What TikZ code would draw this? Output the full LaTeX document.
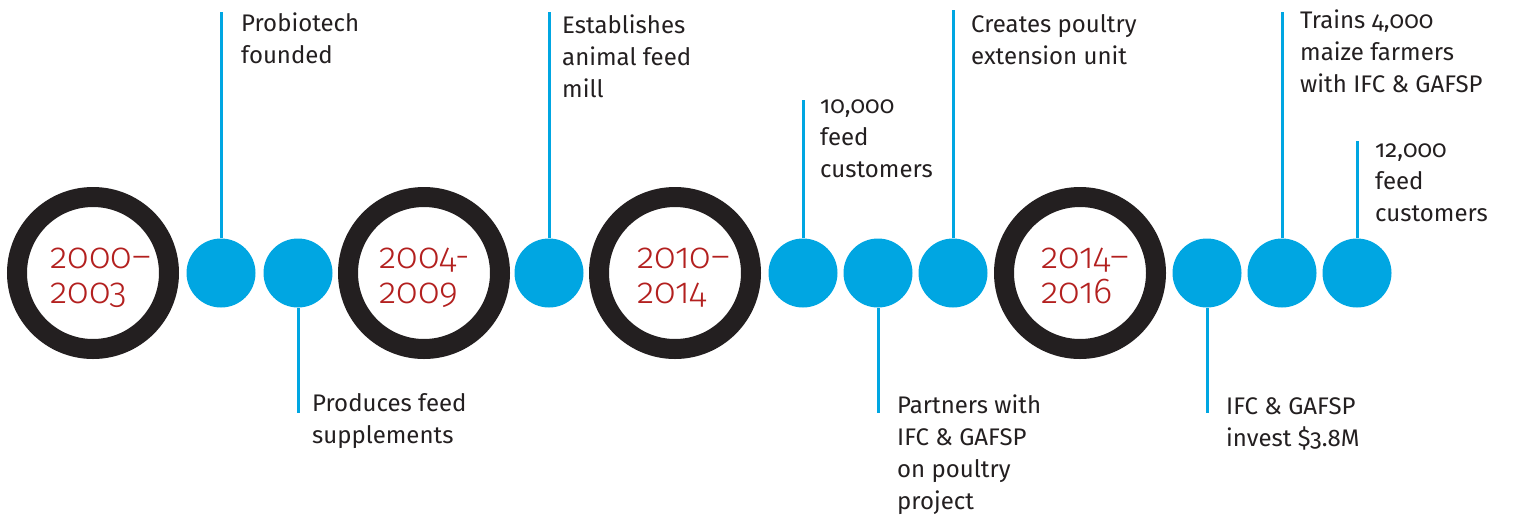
\documentclass[tikz,border=0pt]{standalone}
\usepackage{fontspec}
\setmainfont{Fira Sans}[Numbers=OldStyle]
\newfontfamily\yearfont{Fira Sans Light}[Numbers=OldStyle]
\definecolor{ringblack}{HTML}{231F20}
\definecolor{dotblue}{HTML}{00A6E2}
\definecolor{yearred}{HTML}{B3201F}
\definecolor{txtgray}{HTML}{231F20}
\begin{document}
\begin{tikzpicture}[x=1pt,y=-1pt,
  ring/.style={circle,draw=ringblack,line width=20pt,minimum size=152pt,inner sep=0pt},
  dot/.style={circle,fill=dotblue,minimum size=69pt,inner sep=0pt},
  stem/.style={draw=dotblue,line width=3pt},
  yeartxt/.style={anchor=base west,inner sep=0pt,align=left,text=yearred,font=\yearfont\fontsize{36}{35}\selectfont},
  evtxt/.style={anchor=base west,inner sep=0pt,align=left,text=txtgray,font=\fontsize{24}{32}\selectfont}]
\useasboundingbox (0,0) rectangle (1513,517);
% rings
\node[ring] (r1) at (93,273) {};
\node[ring] (r2) at (424,273) {};
\node[ring] (r3) at (675,273) {};
\node[ring] (r4) at (1080,273) {};
% year labels (anchored at the baseline of the last line)
\node[yeartxt] (y1) at (50,303) {2000–\\2003};
\node[yeartxt] (y2) at (379,303) {2004-\\2009};
\node[yeartxt] (y3) at (637,303) {2010–\\2014};
\node[yeartxt] (y4) at (1041,303) {2014–\\2016};
% dots
\node[dot] (b1) at (221,273) {};
\node[dot] (b2) at (298,273) {};
\node[dot] (b3) at (549,273) {};
\node[dot] (b4) at (803,273) {};
\node[dot] (b5) at (878,273) {};
\node[dot] (b6) at (953,273) {};
\node[dot] (b7) at (1207,273) {};
\node[dot] (b8) at (1282,273) {};
\node[dot] (b9) at (1357,273) {};
% stem ends
\coordinate (e1) at (221,12);
\coordinate (e2) at (298,413);
\coordinate (e3) at (549,12);
\coordinate (e4) at (803,100);
\coordinate (e5) at (878,413);
\coordinate (e6) at (953,10);
\coordinate (e7) at (1207,413);
\coordinate (e8) at (1282,12);
\coordinate (e9) at (1357,141);
\draw[stem] (b1.north) -- (e1);
\draw[stem] (b2.south) -- (e2);
\draw[stem] (b3.north) -- (e3);
\draw[stem] (b4.north) -- (e4);
\draw[stem] (b5.south) -- (e5);
\draw[stem] (b6.north) -- (e6);
\draw[stem] (b7.south) -- (e7);
\draw[stem] (b8.north) -- (e8);
\draw[stem] (b9.north) -- (e9);
% event texts (anchored at the baseline of the last line)
\node[evtxt] (t1) at (241,63.5) {Probiotech\\founded};
\node[evtxt] (t2) at (312,443) {Produces feed\\supplements};
\node[evtxt] (t3) at (562,97) {Establishes\\animal feed\\mill};
\node[evtxt] (t4) at (820,177) {10,000\\feed\\customers};
\node[evtxt] (t5) at (897,509) {Partners with\\IFC \& GAFSP\\on poultry\\project};
\node[evtxt] (t6) at (971,64) {Creates poultry\\extension unit};
\node[evtxt] (t7) at (1226,446) {IFC \& GAFSP\\invest \$3.8M};
\node[evtxt] (t8) at (1300,92) {Trains 4,000\\maize farmers\\with IFC \& GAFSP};
\node[evtxt] (t9) at (1375,221) {12,000\\feed\\customers};
\end{tikzpicture}
\end{document}
